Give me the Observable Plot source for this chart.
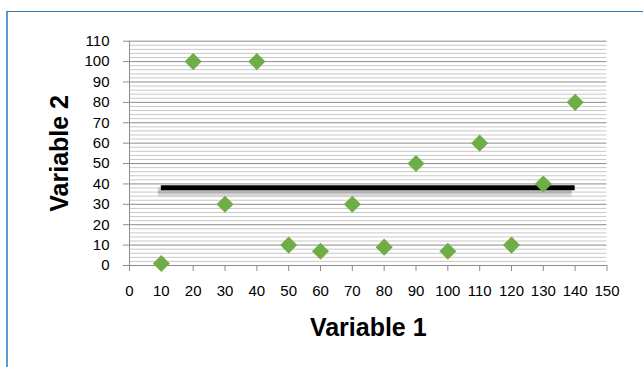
<!DOCTYPE html>
<html><head><meta charset="utf-8">
<script src="https://cdn.jsdelivr.net/npm/d3@7"></script>
<script src="https://cdn.jsdelivr.net/npm/@observablehq/plot@0.6"></script>
<style>
body{margin:0;background:#fff;}
#wrap{position:relative;width:643px;height:367px;overflow:hidden;background:#fff;}
#frame{position:absolute;left:6px;top:11px;width:700px;height:400px;border-left:2px solid #5b9bd5;border-top:1.5px solid #2e75b6;box-sizing:border-box;}
#chart{position:absolute;left:0;top:0;}
</style></head>
<body>
<div id="wrap"><div id="frame"></div><div id="chart"></div></div>
<script>
const variable1 = [10, 20, 30, 40, 50, 60, 70, 80, 90, 100, 110, 120, 130, 140];
const variable2 = [1, 100, 30, 100, 10, 7, 30, 9, 50, 7, 60, 10, 40, 80];
const lineStart = [10];
const lineEnd = [140];
const lineLevel = [38.1];
const xTicks = [0, 10, 20, 30, 40, 50, 60, 70, 80, 90, 100, 110, 120, 130, 140, 150];
const yTicks = [0, 10, 20, 30, 40, 50, 60, 70, 80, 90, 100, 110];
const xTitle = "Variable 1";
const yTitle = "Variable 2";

const points = variable1.map((x, i) => ({x, y: variable2[i]}));
const meanLine = lineLevel.map((y, i) => ({x1: lineStart[i], x2: lineEnd[i], y}));
const minorTicks = d3.range(0, 111, 2).filter(v => v % 10 !== 0);

const shadowLayers = [
  {w: 11, o: 0.05, dy: 4},
  {w: 8, o: 0.07, dy: 4},
  {w: 5, o: 0.10, dy: 4}
].map(s => Plot.ruleY(meanLine, {x1: "x1", x2: "x2", y: "y", stroke: "#000", strokeWidth: s.w, strokeOpacity: s.o, dy: s.dy, dx: -3}));

const plot = Plot.plot({
  width: 643, height: 367,
  marginLeft: 129, marginRight: 36.5, marginTop: 40.7, marginBottom: 102,
  x: {domain: [0, 150]},
  y: {domain: [0, 110]},
  style: {fontFamily: "'Liberation Sans', Arial, sans-serif", fontSize: "15px", color: "#000", background: "transparent", overflow: "visible"},
  marks: [
    Plot.ruleY(minorTicks, {stroke: "#c8c8c8", strokeWidth: 1}),
    Plot.ruleY(yTicks, {stroke: "#8c8c8c", strokeWidth: 1}),
    Plot.ruleX([0], {stroke: "#8c8c8c", strokeWidth: 1}),
    Plot.axisY(yTicks, {tickSize: 6, tickPadding: 14, stroke: "#8c8c8c", strokeOpacity: 1, fontSize: 15, label: null, fill: "#000"}),
    Plot.axisX(xTicks, {tickSize: 6, tickPadding: 14, stroke: "#8c8c8c", strokeOpacity: 1, fontSize: 15, label: null, fill: "#000"}),
    ...shadowLayers,
    Plot.ruleY(meanLine, {x1: "x1", x2: "x2", y: "y", stroke: "#000", strokeWidth: 5}),
    Plot.dot(points, {x: "x", y: "y", symbol: "diamond2", r: 7.7, fill: "#70ad47", stroke: "none"}),
    Plot.text([xTitle], {frameAnchor: "bottom", dy: 62, fontSize: 25, fontWeight: "bold", fill: "#000", lineAnchor: "middle"}),
    Plot.text([yTitle], {frameAnchor: "left", dx: -70, rotate: -90, textAnchor: "middle", fontSize: 25, fontWeight: "bold", fill: "#000", lineAnchor: "middle"})
  ]
});

document.getElementById("chart").appendChild(plot);
</script>
</body></html>
